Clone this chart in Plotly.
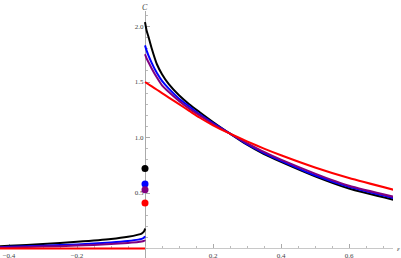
import plotly.graph_objects as go

# ---- data ----
x_right = [0.0, 0.005, 0.01, 0.02, 0.035, 0.05, 0.07, 0.1, 0.13, 0.16, 0.2, 0.25, 0.3, 0.35, 0.4, 0.5, 0.6, 0.73]
black_right = [2.04, 1.96, 1.91, 1.80, 1.66, 1.57, 1.48, 1.38, 1.30, 1.23, 1.14, 1.035, 0.935, 0.85, 0.78, 0.65, 0.54, 0.44]
blue_right = [1.83, 1.78, 1.74, 1.67, 1.58, 1.51, 1.44, 1.35, 1.28, 1.21, 1.13, 1.035, 0.94, 0.86, 0.79, 0.66, 0.555, 0.455]
purple_right = [1.75, 1.71, 1.68, 1.62, 1.54, 1.47, 1.41, 1.33, 1.26, 1.20, 1.12, 1.035, 0.95, 0.87, 0.80, 0.675, 0.565, 0.467]
red_right = [1.50, 1.49, 1.48, 1.46, 1.43, 1.40, 1.36, 1.30, 1.24, 1.18, 1.11, 1.035, 0.965, 0.90, 0.84, 0.73, 0.635, 0.53]

x_left = [-0.43, -0.4, -0.3, -0.2, -0.1, -0.05, -0.02, -0.01, -0.004, -0.001, 0.0]
black_left = [0.02, 0.025, 0.04, 0.06, 0.085, 0.105, 0.125, 0.135, 0.15, 0.165, 0.18]
blue_left = [0.012, 0.015, 0.025, 0.037, 0.055, 0.068, 0.08, 0.087, 0.095, 0.105, 0.11]
purple_left = [0.008, 0.01, 0.017, 0.026, 0.04, 0.05, 0.058, 0.063, 0.068, 0.073, 0.077]
red_left = [0.0] * len(x_left)

dot_x = [0.0, 0.0, 0.0, 0.0]
dot_y = [0.72, 0.58, 0.53, 0.41]

x_tickvals = [-0.4, -0.2, 0.2, 0.4, 0.6]
x_ticktext = ["\u22120.4", "\u22120.2", "0.2", "0.4", "0.6"]
y_tickvals = [0.5, 1.0, 1.5, 2.0]
y_ticktext = ["0.5", "1.0", "1.5", "2.0"]

colors = ["#000000", "#0000ff", "#800080", "#ff0000"]

fig = go.Figure()
series = [
    (black_left, black_right),
    (blue_left, blue_right),
    (purple_left, purple_right),
    (red_left, red_right),
]
for (yl, yr), c in zip(series, colors):
    fig.add_trace(go.Scatter(x=x_left, y=yl, mode="lines", line=dict(color=c, width=2, shape="spline", smoothing=0.6),
                             showlegend=False, hoverinfo="skip"))
    fig.add_trace(go.Scatter(x=x_right, y=yr, mode="lines", line=dict(color=c, width=2, shape="spline", smoothing=0.6),
                             showlegend=False, hoverinfo="skip"))

fig.add_trace(go.Scatter(x=dot_x, y=dot_y, mode="markers",
                         marker=dict(color=colors, size=7), showlegend=False, hoverinfo="skip",
                         cliponaxis=False))

xmin, xmax = -0.4265, 0.7294
ymin, ymax = -0.0856, 2.1396

tickfont = dict(family="Liberation Serif", size=7, color="#444444")
fig.update_layout(
    width=401, height=258,
    margin=dict(l=0, r=8, t=11, b=0, autoexpand=False),
    plot_bgcolor="white", paper_bgcolor="white",
    xaxis=dict(range=[xmin, xmax], anchor="free", position=(0 - ymin) / (ymax - ymin),
               showgrid=False, zeroline=False, showline=True, linecolor="#c8c8c8", linewidth=1,
               tickmode="array", tickvals=x_tickvals, ticktext=x_ticktext,
               ticks="inside", ticklen=4, tickcolor="#aaaaaa", tickfont=tickfont,
               minor=dict(tick0=0, dtick=0.05, ticks="inside", ticklen=2, tickcolor="#bbbbbb"),
               layer="below traces", automargin=False, fixedrange=True),
    yaxis=dict(range=[ymin, ymax], anchor="free", position=(0 - xmin) / (xmax - xmin),
               showgrid=False, zeroline=False, showline=True, linecolor="#aaaaaa", linewidth=1,
               tickmode="array", tickvals=y_tickvals, ticktext=y_ticktext,
               ticks="inside", ticklen=4, tickcolor="#aaaaaa", tickfont=tickfont,
               minor=dict(tick0=0, dtick=0.1, ticks="inside", ticklen=2, tickcolor="#bbbbbb"),
               layer="below traces", automargin=False, fixedrange=True),
    annotations=[
        dict(x=0, y=1, xref="x", yref="paper", yanchor="bottom", xanchor="center", showarrow=False,
             text="<i>C</i>", font=dict(family="Liberation Serif", size=8, color="#444444"), yshift=-3),
        dict(x=1.0, y=0, xref="paper", yref="y", xanchor="left", yanchor="middle", showarrow=False,
             text="<i>\u03b5</i>", font=dict(family="Liberation Serif", size=7, color="#444444"), xshift=2),
    ],
)

fig.write_html("out.html", config={"displayModeBar": False},
               post_script="document.body.style.margin='0';document.body.style.padding='0';document.body.style.overflow='hidden';")
